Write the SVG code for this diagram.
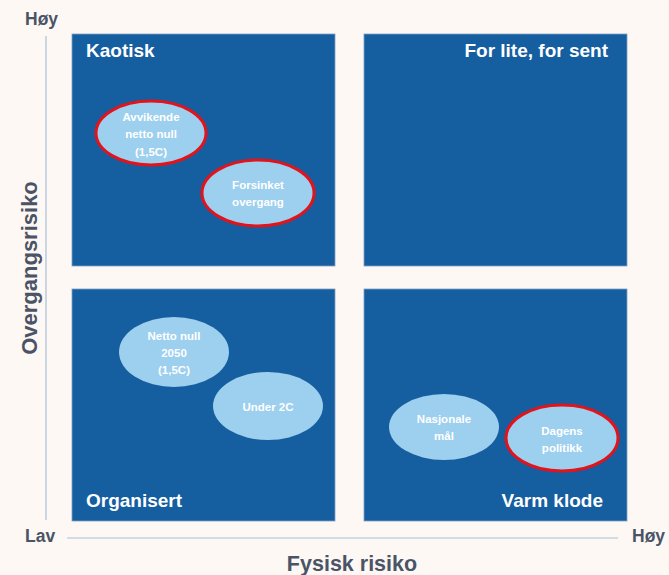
<svg xmlns="http://www.w3.org/2000/svg" width="669" height="575" viewBox="0 0 669 575">
<style>
.bg{fill:#fdf8f4}
.quad{fill:#155e9f;stroke:#7f9fc6;stroke-width:0.8}
.ax{stroke:#a9bfd8;stroke-width:1.2;fill:none}
.axt{font-family:"Liberation Sans",Arial,sans-serif;font-weight:bold;fill:#4a5466}
.qt{font-family:"Liberation Sans",Arial,sans-serif;font-weight:bold;fill:#ffffff;font-size:19px}
.el{fill:#9dcfee}
.red{stroke:#e3131b;stroke-width:3}
.et{font-family:"Liberation Sans",Arial,sans-serif;font-weight:bold;fill:#ffffff;font-size:11.5px;text-anchor:middle}
</style>
<rect class="bg" x="0" y="0" width="669" height="575"/>
<g id="axes">
<line class="ax" x1="46" y1="36" x2="46" y2="520"/>
<line class="ax" x1="67" y1="538" x2="618" y2="538"/>
<text class="axt" x="25" y="25" font-size="17.5">Høy</text>
<text class="axt" x="25" y="542" font-size="17.5">Lav</text>
<text class="axt" x="632" y="542" font-size="17.5">Høy</text>
<text class="axt" x="352" y="571" font-size="21.5" text-anchor="middle">Fysisk risiko</text>
<text class="axt" x="0" y="0" font-size="22" text-anchor="middle" transform="translate(37,268) rotate(-90)">Overgangsrisiko</text>
</g>
<g id="q-kaotisk">
<rect class="quad" x="72" y="34" width="263" height="232"/>
<text class="qt" x="86" y="57">Kaotisk</text>
</g>
<g id="q-forlite">
<rect class="quad" x="364" y="34" width="263" height="232"/>
<text class="qt" x="608" y="57" text-anchor="end">For lite, for sent</text>
</g>
<g id="q-organisert">
<rect class="quad" x="72" y="289" width="263" height="232"/>
<text class="qt" x="86" y="507">Organisert</text>
</g>
<g id="q-varm">
<rect class="quad" x="364" y="289" width="263" height="232"/>
<text class="qt" x="603" y="507" text-anchor="end">Varm klode</text>
</g>
<g id="n-avvikende">
<ellipse class="el red" cx="151" cy="133" rx="55" ry="32"/>
<text class="et" x="151" y="121">Avvikende</text>
<text class="et" x="151" y="138">netto null</text>
<text class="et" x="151" y="156">(1,5C)</text>
</g>
<g id="n-forsinket">
<ellipse class="el red" cx="258" cy="193" rx="56" ry="33"/>
<text class="et" x="258" y="189">Forsinket</text>
<text class="et" x="258" y="206">overgang</text>
</g>
<g id="n-netto">
<ellipse class="el" cx="174" cy="352" rx="55" ry="35"/>
<text class="et" x="174" y="340">Netto null</text>
<text class="et" x="174" y="357">2050</text>
<text class="et" x="174" y="374">(1,5C)</text>
</g>
<g id="n-under2c">
<ellipse class="el" cx="268" cy="406" rx="55" ry="34"/>
<text class="et" x="268" y="411">Under 2C</text>
</g>
<g id="n-nasjonale">
<ellipse class="el" cx="444" cy="427" rx="55" ry="33"/>
<text class="et" x="444" y="423">Nasjonale</text>
<text class="et" x="444" y="440">mål</text>
</g>
<g id="n-dagens">
<ellipse class="el red" cx="562" cy="438" rx="56" ry="33"/>
<text class="et" x="562" y="435">Dagens</text>
<text class="et" x="562" y="452">politikk</text>
</g>
</svg>
